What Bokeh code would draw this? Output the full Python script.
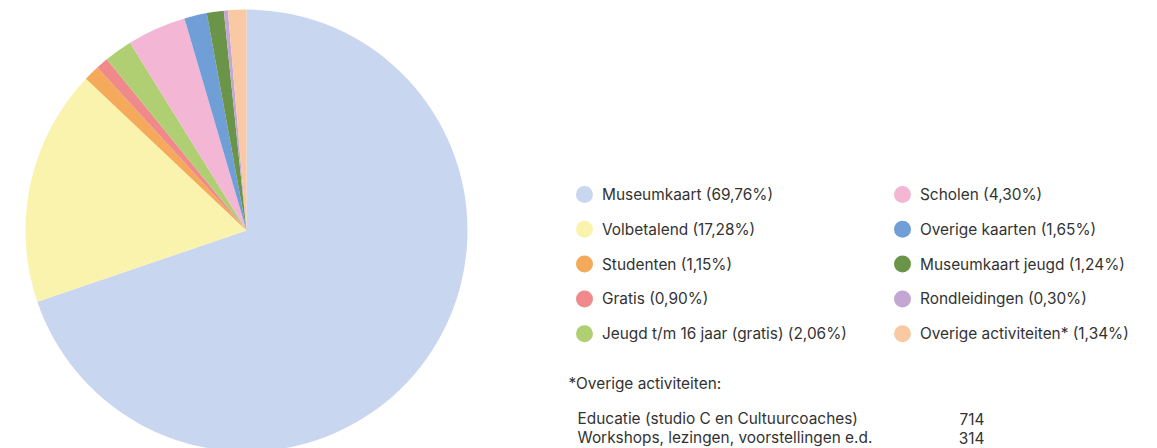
import math
from bokeh.plotting import figure
from bokeh.models import Range1d, ColumnDataSource
from bokeh.core.properties import value
from bokeh.embed import file_html
from bokeh.resources import INLINE

categories = ["Museumkaart", "Volbetalend", "Studenten", "Gratis",
              "Jeugd t/m 16 jaar (gratis)", "Scholen", "Overige kaarten",
              "Museumkaart jeugd", "Rondleidingen", "Overige activiteiten*"]
percentages = [69.76, 17.28, 1.15, 0.90, 2.06, 4.30, 1.65, 1.24, 0.30, 1.34]
colors = ["#c8d6ef", "#faf3ae", "#f5a95a", "#f08a8a", "#afcf72",
          "#f3b6d5", "#6f9fd6", "#6a9448", "#c2a6d3", "#f8c9a3"]
pct_labels = ["69,76%", "17,28%", "1,15%", "0,90%", "2,06%",
              "4,30%", "1,65%", "1,24%", "0,30%", "1,34%"]
note_title = "*Overige activiteiten:"
note_items = ["Educatie (studio C en Cultuurcoaches)",
              "Workshops, lezingen, voorstellingen e.d."]
note_values = ["714", "314"]

W, H = 1149, 448
p = figure(width=W, height=H, output_backend="svg", toolbar_location=None,
           x_range=Range1d(0, W), y_range=Range1d(0, H), min_border=0)
p.axis.visible = False
p.grid.visible = False
p.outline_line_color = None
p.background_fill_color = "white"

def Y(py):
    return H - py

# pie
cx, cy, r = 246, Y(230), 221
total = sum(percentages)
starts, ends = [], []
cum = 0.0
for v in percentages:
    a0 = math.pi / 2 - (cum + v) / total * 2 * math.pi
    a1 = math.pi / 2 - cum / total * 2 * math.pi
    starts.append(a0)
    ends.append(a1)
    cum += v
src = ColumnDataSource(dict(x=[cx] * len(percentages), y=[cy] * len(percentages),
                            s=starts, e=ends, c=colors))
p.wedge(x="x", y="y", radius=r, start_angle="s", end_angle="e",
        fill_color="c", line_color=None, source=src)

# legend
font = value("Inter")
fs = "15.4px"
tc = "#333333"
lx, ly, tx, ty, tt = [], [], [], [], []
for i, (cat, lab) in enumerate(zip(categories, pct_labels)):
    col, row = divmod(i, 5)
    px = [584, 902][col]
    py = Y(194 + row * 34.8)
    lx.append(px); ly.append(py)
    tx.append(px + 17.5); ty.append(py)
    tt.append(f"{cat} ({lab})")
p.scatter(lx, ly, size=17, marker="circle", fill_color=colors, line_color=None)
p.text(tx, ty, text=tt, text_font=font, text_font_size=fs,
       text_color=tc, text_baseline="middle", text_align="left")

p.text([568], [Y(383)], text=[note_title], text_font=font, text_font_size=fs,
       text_color=tc, text_baseline="middle")
p.text([577, 577], [Y(418), Y(437)], text=note_items, text_font=font,
       text_font_size=fs, text_color=tc, text_baseline="middle")
p.text([984, 984], [Y(418), Y(437)], text=note_values, text_font=font,
       text_font_size=fs, text_color=tc, text_baseline="middle",
       text_align="right")

open("out.html", "w").write(file_html(p, INLINE))
